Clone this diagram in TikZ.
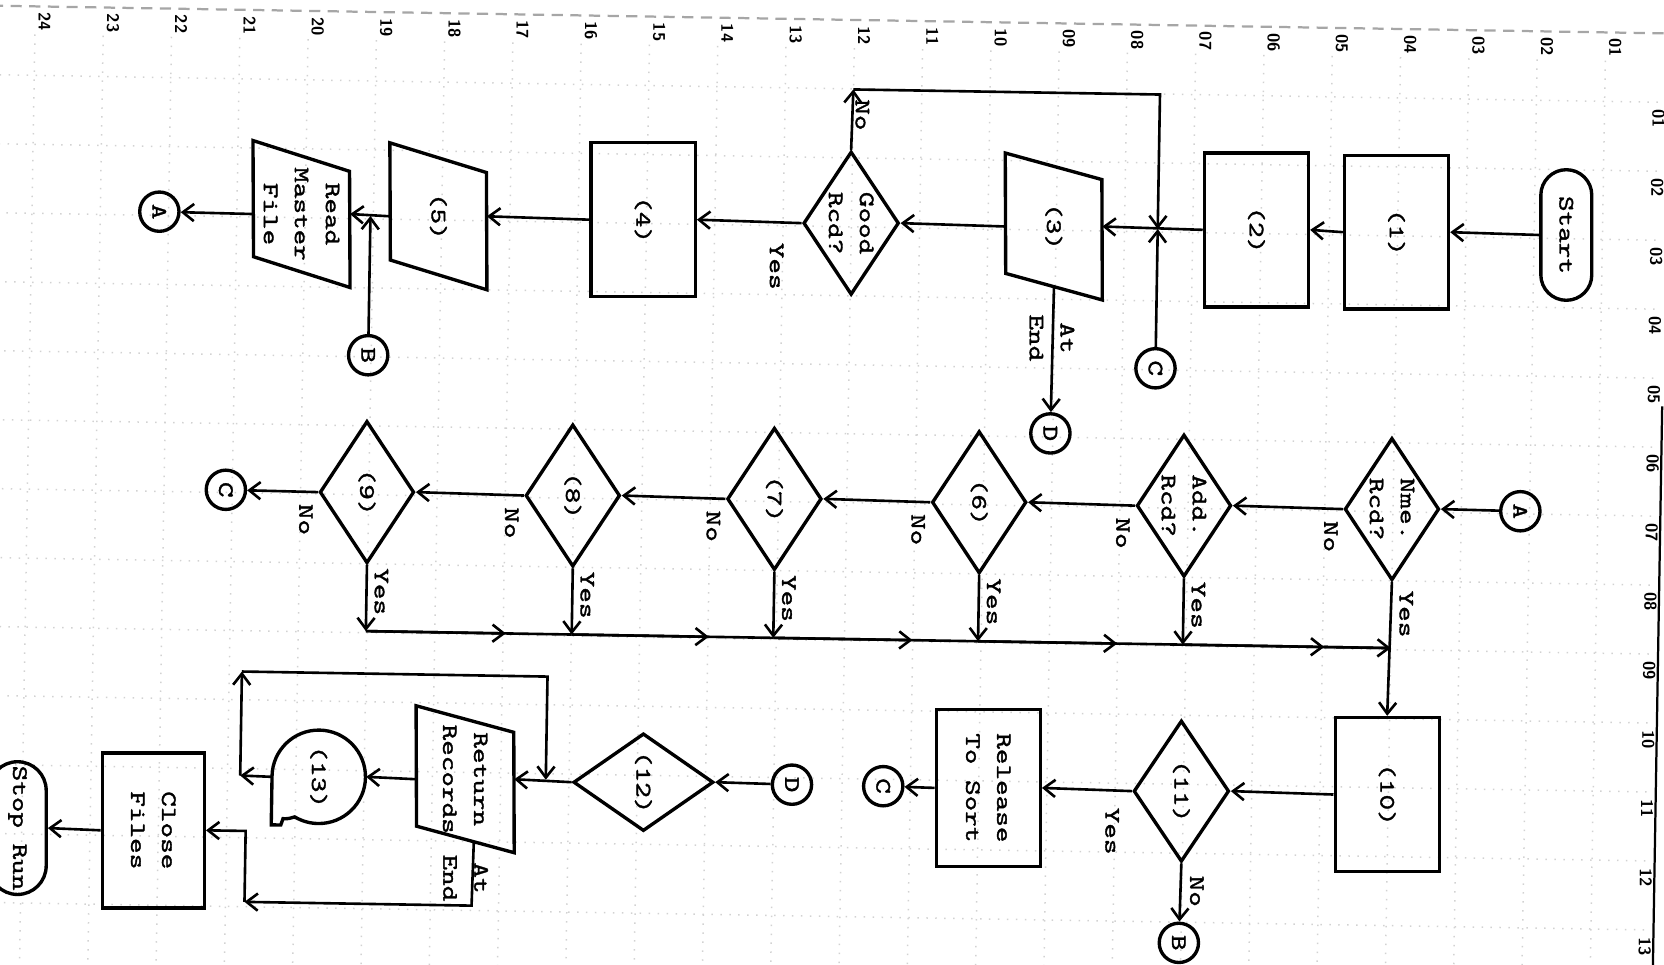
\documentclass[tikz,border=0pt]{standalone}
\usepackage{fontspec}
\setmonofont{lmmono10-regular.otf}[FakeStretch=1.35,FakeBold=1.6]
\usepackage{graphicx}
\usetikzlibrary{arrows.meta,calc,shapes.geometric}

% outline of an input/output box (sides upright, top and bottom slanted)
\newcommand{\ioshape}[2]{\draw[shp] (#1.north west) -- ([yshift=-#2]#1.north east) -- (#1.south east) -- ([yshift=#2]#1.south west) -- cycle;}

\tikzset{
  shp/.style={draw, line width=0.9pt},
  proc/.style={shp, rectangle, inner sep=0pt, minimum width=0.98cm, minimum height=1.45cm},
  dec/.style={shp, diamond, inner sep=0pt, minimum width=0.89cm, minimum height=1.34cm},
  conn/.style={shp, circle, inner sep=0pt, minimum size=0.37cm},
  term/.style={shp, rectangle, inner sep=0pt, rounded corners=0.24cm, minimum width=0.48cm, minimum height=1.23cm},
  iobox/.style={rectangle, inner sep=0pt, minimum width=0.9cm, minimum height=1.37cm},
  lbl/.style={inner sep=0pt, rotate=-90, align=center},
  txt/.style={label={[lbl]center:{#1}}},
  wire/.style={line width=0.7pt},
  flow/.style={wire, -{Straight Barb[length=3pt,width=4.6pt]}},
  gridline/.style={gray!35, dotted, line width=0.4pt},
  gridnum/.style={inner sep=0pt, rotate=-90, font=\sffamily\bfseries\fontsize{4.5}{5}\selectfont}
}

\begin{document}
\begin{tikzpicture}[x=0.01cm, y=-0.01cm, font=\ttfamily\fontsize{5.9}{8.3}\selectfont]
  \useasboundingbox (0,0) rectangle (1568,909);
  \begin{scope}[rotate around={-0.95:(784,455)}]
    % grid paper
    \foreach \k in {0,...,23} \draw[gridline] ({26+64.35*\k},45) -- ({26+64.35*\k},935);
    \foreach \k in {0,...,12} \draw[gridline] (-15,{83.5+65*\k}) -- (1562,{83.5+65*\k});
    \draw[gray!70, densely dashed, line width=0.6pt] (-15,18.5) -- (1580,18.5);
    \draw[line width=0.6pt] (1565,370) -- (1565,935);
    \foreach \n [count=\i from 0] in {24,23,22,21,20,19,18,17,16,15,14,13,12,11,10,09,08,07,06,05,04,03,02,01}
      \node[gridnum] (top\n) at ({35+64.35*\i},33) {\n};
    \foreach \n [count=\i from 0] in {01,02,03,04,05,06,07,08,09,10,11,12,13}
      \node[gridnum] (side\n) at (1557,{99+65*\i}) {\n};

    % first run: read and check the cards
    \node[term, txt={Start}] (start) at (1472,210) {};
    \node[proc, txt={(1)}] (b1) at (1312,210) {};
    \node[proc, txt={(2)}] (b2) at (1180,210) {};
    \node[iobox, txt={(3)}] (b3) at (989,210) {};
    \ioshape{b3}{0.25cm}
    \node[dec, minimum width=0.9cm, minimum height=1.35cm, txt={Good\\Rcd?}] (good) at (798,210) {};
    \node[proc, txt={(4)}] (b4) at (602,210) {};
    \node[iobox, txt={(5)}] (b5) at (409,210) {};
    \ioshape{b5}{0.28cm}
    \node[iobox, txt={Read\\Master\\File}] (rmf) at (280,210) {};
    \ioshape{rmf}{0.29cm}
    \node[conn, txt={A}] (cA) at (146,210) {};
    \node[conn, txt={C}] (cC) at (1087,342) {};
    \node[conn, txt={D}] (cD) at (989,405) {};
    \node[conn, txt={B}] (cB) at (345,342) {};

    \coordinate (j1) at (cC |- b2.west);
    \coordinate (topL) at (798,84);
    \coordinate (topR) at (1087,84);
    \coordinate (b3End) at ([shift={(0,-12.5)}]b3.south);
    \coordinate (jB) at (cB |- b5.west);

    \draw[flow] (start.west) -- (b1.east);
    \draw[flow] (b1.west) -- (b2.east);
    \draw[flow] (b2.west) -- (b3.east);
    \draw[flow] (cC) -- (j1);
    \draw[flow] (good.north) -- (topL);
    \draw[flow] (topL) -- (topR) -- (j1);
    \draw[flow] (b3.west) -- (good.east);
    \draw[flow] (b3End) -- (cD);
    \draw[flow] (good.west) -- (b4.east);
    \draw[flow] (b4.west) -- (b5.east);
    \draw[flow] (b5.west) -- (rmf.east);
    \draw[flow] (cB) -- (jB);
    \draw[flow] (rmf.west) -- (cA);

    \node[lbl] (noGood) at ([shift={(10,-33)}]good.north) {No};
    \node[lbl] (yesGood) at ([shift={(-23,41)}]good.west) {Yes};
    \node[lbl] (endB3) at (989,315) {At\\End};

    % chain of record tests
    \node[conn, txt={A}] (cA2) at (1433,471) {};
    \node[dec, txt={Nme.\\Rcd?}] (nme) at (1312,471) {};
    \node[dec, txt={Add.\\Rcd?}] (add) at (1116,471) {};
    \node[dec, txt={(6)}] (d6) at (923,471) {};
    \node[dec, txt={(7)}] (d7) at (730,471) {};
    \node[dec, txt={(8)}] (d8) at (540,471) {};
    \node[dec, txt={(9)}] (d9) at (346,471) {};
    \node[conn, txt={C}] (cC2) at (213,471) {};

    \draw[flow] (cA2) -- (nme.east);
    \foreach \a/\b in {nme/add, add/d6, d6/d7, d7/d8, d8/d9}
      \draw[flow] (\a.west) -- (\b.east);
    \draw[flow] (d9.west) -- (cC2);
    \foreach \d in {nme,add,d6,d7,d8,d9}
      \node[lbl] (no\d) at ([shift={(-11,26)}]\d.west) {No};
    \foreach \d in {add,d6,d7,d8,d9}
      \node[lbl] (yes\d) at ([shift={(14,25)}]\d.south) {Yes};
    \node[lbl] (yesnme) at ([shift={(14,30)}]nme.south) {Yes};

    % the Yes exits join one line
    \coordinate (bus) at (0,602);
    \foreach \d in {nme,add,d6,d7,d8,d9}
      \coordinate (j\d) at (\d.south |- bus);
    \foreach \d in {add,d6,d7,d8,d9}
      \draw[flow] (\d.south) -- (j\d);
    \foreach \a/\b in {d9/d8,d8/d7,d7/d6,d6/add,add/nme} {
      \draw[wire] (j\a) -- (j\b);
      \draw[flow] (j\a) -- ($(j\a)!0.68!(j\b)$);
    }
    \draw[flow] ($(jadd)!0.68!(jnme)$) -- (jnme);

    % release to sort
    \node[proc, txt={(10)}] (b10) at (1312,740) {};
    \node[dec, minimum width=0.9cm, minimum height=1.33cm, txt={(11)}] (d11) at (1118,740) {};
    \node[proc, minimum height=1.48cm, txt={Release\\To Sort}] (rts) at (936,740) {};
    \node[conn, txt={C}] (cC3) at (837,740) {};
    \node[conn, txt={B}] (cB2) at (1118,883) {};

    \draw[flow] (nme.south) -- (b10.north);
    \draw[flow] (b10.west) -- (d11.east);
    \draw[flow] (d11.west) -- (rts.east);
    \draw[flow] (rts.west) -- (cC3);
    \draw[flow] (d11.south) -- (cB2);
    \node[lbl] (yesd11) at ([shift={(-18,38)}]d11.west) {Yes};
    \node[lbl] (nod11) at ([shift={(15,26)}]d11.south) {No};

    % return sorted records and stop
    \node[conn, txt={D}] (cD2) at (751,740) {};
    \node[dec, minimum width=1.32cm, minimum height=0.92cm, txt={(12)}] (d12) at (611,740) {};
    \node[iobox, minimum width=0.91cm, txt={Return\\Records}] (rr) at (443,740) {};
    \ioshape{rr}{0.25cm}
    \node[circle, inner sep=0pt, minimum size=0.88cm, txt={(13)}] (c13) at (305,740) {};
    \draw[shp] ([shift={(-44,0)}]c13.center) arc[start angle=180, end angle=-120, radius=0.44cm]
      .. controls ([shift={(-28,40)}]c13.center) .. ([shift={(-33,40)}]c13.center)
      -- ([shift={(-35,46)}]c13.center) -- ([shift={(-44,46)}]c13.center) -- cycle;
    \node[proc, minimum width=0.96cm, minimum height=1.46cm, txt={Close\\Files}] (cf) at (150,793) {};
    \node[term, minimum width=0.54cm, minimum height=1.25cm, rounded corners=0.27cm, txt={Stop Run}] (stop) at (22,793) {};

    \coordinate (tL) at (231,740);
    \coordinate (tU) at (231,642);
    \coordinate (tR) at (519,642);
    \coordinate (j13) at (tR |- rr.east);
    \coordinate (rrEnd) at ([shift={(8,-10.5)}]rr.south);
    \coordinate (eR) at (451,859);
    \coordinate (eL) at (237,859);
    \coordinate (eU) at (eL |- cf.east);

    \draw[flow] (cD2) -- (d12.east);
    \draw[flow] (d12.west) -- (rr.east);
    \draw[flow] (rr.west) -- (c13.east);
    \draw[flow] (c13.west) -- (tL);
    \draw[flow] (tL) -- (tU);
    \draw[flow] (tU) -- (tR) -- (j13);
    \draw[flow] (rrEnd) -- (eR) -- (eL);
    \draw[flow] (eL) -- (eU) -- (cf.east);
    \draw[flow] (cf.west) -- (stop.east);
    \node[lbl] (endRR) at (445,833) {At\\End};
  \end{scope}
\end{tikzpicture}
\end{document}
